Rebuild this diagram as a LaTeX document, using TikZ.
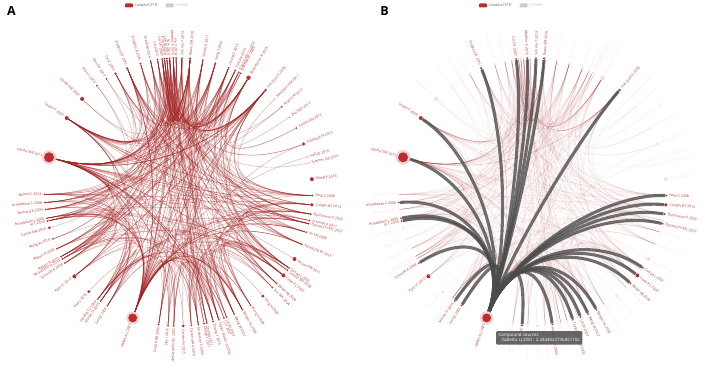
\documentclass[tikz,border=0pt]{standalone}
\usepackage{fontspec}
\setmainfont{Open Sans}
\usetikzlibrary{calc,backgrounds}
\definecolor{nred}{RGB}{190,45,45}
\definecolor{lred}{RGB}{178,52,52}
\definecolor{ered}{RGB}{162,36,36}
\definecolor{tipgray}{RGB}{88,88,88}
\tikzset{
  dotnode/.style={circle, fill=nred, inner sep=0pt},
  fadenode/.style={circle, fill=nred, fill opacity=0.15, inner sep=0pt},
  lbl/.style={font=\fontsize{3.5}{4}\selectfont, text=lred, inner sep=0pt},
  fadelbl/.style={font=\fontsize{3.5}{4}\selectfont, text=lred, text opacity=0.12, inner sep=0pt},
  edgeA/.style={draw=ered, line width=0.5pt, opacity=0.36},
  edgeB/.style={draw=ered, line width=0.4pt, opacity=0.09},
  gedge/.style={draw=black!70, line width=3.1pt, opacity=0.8},
  legbox/.style={rounded corners=0.8pt, minimum width=8pt, minimum height=4pt, inner sep=0pt},
  legtxt/.style={font=\fontsize{3.6}{4}\selectfont, inner sep=0pt, anchor=west},
  panel/.style={font=\fontsize{12.5}{13}\selectfont\bfseries, inner sep=0pt},
}
\def\nodelist{
-1.5/Noel S 2008/1/1/7,
-5.5/Conger BT 2013/1.8/1/7,
-9.5/Bachmann A 2009/1.1/1/7,
-12.3/Schmidt A 2011/1/0/5,
-13.7/Dechecchi MC 2007/1/1/6,
-17.5/Xu LN 2008/1/0/4,
-23/Namkung W 2013/1/0/4,
-30/Phuan PW 2011/2/0/1,
-34.5/Suaud L 2002/1/1/6,
-35.7/Schultz BD 2008/1/0/5,
-38.5/Chao PC 2009/2/1/7,
-43/Baker MJ 2004/1/1/6,
-45.5/Sun MA 2004/1/0/5,
-51/Yang H 2003/1.6/0/1,
-57.5/Wang Y 2008/1/0/5,
-61.5/Berger AL 2005/1/1/6,
-65.5/Wang W 2007/1/1/6,
-69/Lin W 2007/1/1/6,
-70.2/Li H 2007/1/0/4,
-72.5/Taylor-Moser O 2002/1/1/6,
-75/Zhang Y 2014/1/0/5,
-77.8/Zhang J 2011/1/0/5,
-79/Zhang Y 2011/1/0/4,
-81.5/Anderson C 2003/1/1/6,
-84.5/Carlena MA 2010/1/0/5,
-88/Cordovil V 2015/1.6/0/2,
-92/deCarvalho AC 2002/1/0/5,
-94.5/Dey I 2016/1/1/5,
-98.5/Grubb BR 2006/1/0/5,
-110/Galletta LJ 2001/4.4/1/26,
-122/Lim M 2004/1/1/6,
-125.5/Moran O 2005/1/1/6,
-127/Hwang TC 2009/1/0/5,
-132/Park J 2016/1.6/0/1,
-141/Pyle LC 2010/2/1/7,
-148/Schmidt A 2008/1/1/6,
-150/De Stefano D 2014/1/0/5,
-151.2/Robert R 2010/1/0/5,
-155/Robert R 2008/1/0/5,
-159.5/Wang W 2016/1/0/3,
-164.5/Carlile GW 2016/1.5/0/1,
-167.5/Ai T 2004/1/1/6,
-168.7/Al-Nakkash L 2004/1/1/6,
-172.5/Bernard K 2009/1/0/6,
-175.5/Al-Nakkash L 2008/1/1/7,
-179/Boinot C 2014/1/0/6,
165/Carlile GW 2015/5/1/30,
146.5/Cateni F 2009/2/1/12,
136/Carlile GW 2007/2/0/2,
127.5/Chen L 2015/1/0/2,
122.5/Ren HY 2013/1/0/2,
118/Cai Z 2014/1.3/0/3,
112.5/Dekkers JF 2016/1.2/1/7,
106.5/Dorgelo B 2015/1/0/6,
102/Arel DM 2014/1/0/5,
99/Liu J 2015/1/0/6,
97/Liu CH 2007/1/1/9,
96/Kim SJ 2013/1/0/7,
95/Lee JA 2012/1/0/7,
93.8/Yu H 2012/1/0/7,
92.2/Matthes E 2016/1/1/9,
91/Hu Y 2014/1/0/6,
88.5/Sohma Y 2013/1/1/9,
85/Rowe SM 2010/1.2/1/11,
79.5/Sondo E 2011/1/0/7,
74/Song Y 2006/1/0/7,
68/Leung G 2015/1/0/6,
65/Tosco A 2016/1/0/6,
63.3/Dannhoffer L 2009/1/0/6,
62.4/Dormer RL 2005/1/0/4,
58.5/Pedemonte N 2005/2.2/0/9,
49.5/Van Goor F 2006/1.4/1/16,
44/Sampson HM 2011/0.6/0/1,
39.5/Anjos SM 2012/1/0/2,
34/Zhang D 2012/0.6/0/1,
28.5/Carlile GW 2012/1/0/2,
21/Odolczyk N 2013/1.8/0/3,
15.2/Hall JD 2016/0.6/0/1,
12.6/Stevens LM 2016/0.5/0/1,
5.5/Wang X 2016/2/0/0}
\pgfmathdeclarerandomlist{hubs}{{30}{30}{30}{30}{30}{30}{47}{47}{47}{47}{47}{47}{48}{48}{48}{72}{72}{72}{71}{71}{64}{64}{64}{63}{63}{61}{61}{57}{57}{53}{53}{54}{55}{56}{58}{59}{60}{62}{65}{66}{67}{68}{69}{42}{43}{44}{45}{46}{39}{36}{35}{31}{32}{24}{20}{17}{16}{12}{11}{9}{5}{3}{2}{1}{25}{27}{28}{29}{21}{22}{15}{7}{6}{37}{38}{33}{52}}
\begin{document}
\begin{tikzpicture}[x=1pt,y=1pt]
\useasboundingbox (0,0) rectangle (708,-374);
\coordinate (OA) at (178.5,-192);
\coordinate (OB) at (532.5,-192);
% panel letters
\node[panel] (pA) at (11.5,-11.5) {A};
\node[panel] (pB) at (384.5,-11.5) {B};
% legends
\foreach \p/\x in {A/0,B/354}{
  \node[legbox, fill=nred] (lr\p) at (129+\x,-5.5) {};
  \node[legtxt, text=black!62] (lt\p) at (134.5+\x,-5.5) {CandActCFTR};
  \node[legbox, fill=black!20] (lg\p) at (169.5+\x,-5.5) {};
  \node[legtxt, text=black!22] (lc\p) at (175+\x,-5.5) {ChEMBL};
}
% ---------- panel A nodes ----------
\foreach \ang/\nm/\sz/\hb/\dg [count=\i] in \nodelist {
  \ifdim\sz pt>3pt \fill[nred!22] ($(OA)+(\ang:134)$) circle[radius=\sz pt+2pt]; \fi
  \node[dotnode, minimum size=\sz*2pt] (a\i) at ($(OA)+(\ang:134)$) {};
  \pgfmathparse{cos(\ang)>=0 ? 1 : 0}
  \ifdim\pgfmathresult pt>0.5pt \def\anc{west}\pgfmathsetmacro\rot{\ang}\else \def\anc{east}\pgfmathsetmacro\rot{\ang+180}\fi
  \pgfmathsetmacro\lr{134+\sz+1.8}
  \node[lbl, anchor=\anc, rotate=\rot] (la\i) at ($(OA)+(\ang:\lr)$) {\nm};
}
% ---------- panel B nodes ----------
\foreach \ang/\nm/\sz/\hb/\dg [count=\i] in \nodelist {
  \pgfmathparse{cos(\ang)>=0 ? 1 : 0}
  \ifdim\pgfmathresult pt>0.5pt \def\anc{west}\pgfmathsetmacro\rot{\ang}\else \def\anc{east}\pgfmathsetmacro\rot{\ang+180}\fi
  \pgfmathsetmacro\lr{134+\sz+1.8}
  \ifnum\hb=1
    \ifdim\sz pt>3pt \fill[nred!22] ($(OB)+(\ang:134)$) circle[radius=\sz pt+2.3pt]; \fi
    \node[dotnode, minimum size=\sz*2pt] (b\i) at ($(OB)+(\ang:134)$) {};
    \node[lbl, anchor=\anc, rotate=\rot] (lb\i) at ($(OB)+(\ang:\lr)$) {\nm};
  \else
    \node[fadenode, minimum size=\sz*2pt] (b\i) at ($(OB)+(\ang:134)$) {};
    \node[fadelbl, anchor=\anc, rotate=\rot] (lb\i) at ($(OB)+(\ang:\lr)$) {\nm};
  \fi
}
% ---------- edges ----------
\begin{pgfonlayer}{background}
\pgfmathsetseed{7}
\foreach \ang/\nm/\sz/\hb/\dg [count=\i] in \nodelist {
  \ifnum\dg>0
  \foreach \k in {1,...,\dg} {
    \pgfmathrandomitem{\tg}{hubs}
    \ifnum\tg=\i\else
      \draw[edgeA] (a\i) .. controls ($(a\i)!0.62!(OA)$) and ($(a\tg)!0.62!(OA)$) .. (a\tg);
    \fi
  }
  \fi
}
\pgfmathsetseed{7}
\foreach \ang/\nm/\sz/\hb/\dg [count=\i] in \nodelist {
  \ifnum\dg>0
  \foreach \k in {1,...,\dg} {
    \pgfmathrandomitem{\tg}{hubs}
    \ifnum\tg=\i\else
      \draw[edgeB] (b\i) .. controls ($(b\i)!0.62!(OB)$) and ($(b\tg)!0.62!(OB)$) .. (b\tg);
    \fi
  }
  \fi
}
\foreach \tg in {1,2,3,5,9,11,12,16,17,18,20,24,28,31,32,36,42,43,45,47,48,53,57,61,63,64,72} {
  \draw[gedge] (b30) .. controls ($(b30)!0.5!(OB)$) and ($(b\tg)!0.5!(OB)$) .. (b\tg);
}
\end{pgfonlayer}
% tooltip
\node[fill=tipgray, fill opacity=0.92, text opacity=1, text=white, rounded corners=1pt,
      font=\fontsize{4.4}{5.6}\selectfont, align=left, inner xsep=2.5pt, inner ysep=1.8pt,
      anchor=north west] (tip) at (496,-331)
  {Compound sources\\{\color{nred}\textbullet}\ Galletta LJ 2001: 2.3444022736851102};
\end{tikzpicture}
\end{document}
